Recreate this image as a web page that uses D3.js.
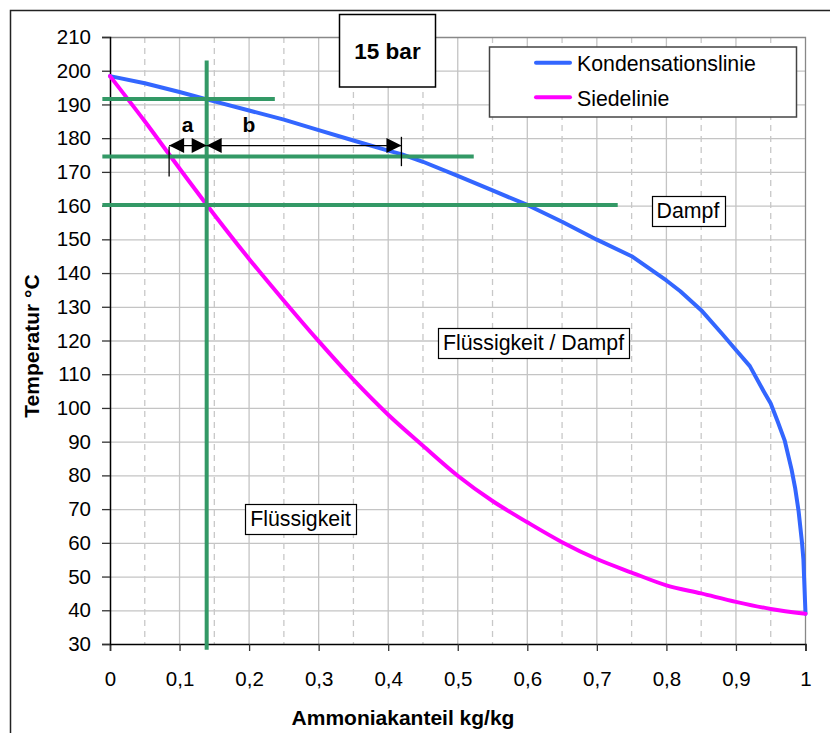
<!DOCTYPE html>
<html>
<head>
<meta charset="utf-8">
<script src="https://cdn.jsdelivr.net/npm/d3@7"></script>
<style>
  html, body { margin: 0; padding: 0; background: #fff; }
  svg { display: block; font-family: "Liberation Sans", Arial, sans-serif; }
</style>
</head>
<body>
<svg id="chart" width="830" height="733"></svg>
<script>
// Ammoniak/Wasser-Gemisch bei 15 bar: Kondensations- und Siedelinie
const kondFrac = [0, 0.05, 0.1, 0.15, 0.2, 0.25, 0.3, 0.35, 0.4, 0.42, 0.45, 0.5, 0.55, 0.6, 0.65, 0.7, 0.75,
                  0.8, 0.82, 0.85, 0.88, 0.9, 0.92, 0.94, 0.95, 0.96, 0.97, 0.98, 0.985, 0.99, 0.995, 0.997, 1.0];
const kondTemp = [198.4, 196.3, 193.7, 190.9, 188.2, 185.5, 182.4, 179.3, 176.3, 175.2, 173.0, 168.8, 164.5, 160.2, 155.2, 149.9, 145.0,
                  137.8, 134.6, 129.0, 122.0, 117.2, 112.4, 104.9, 101.3, 96.0, 90.4, 81.7, 76.4, 69.5, 60.0, 55.0, 39.0];

const siedFrac = [0, 0.05, 0.1, 0.15, 0.2, 0.25, 0.3, 0.35, 0.4, 0.45, 0.5, 0.55, 0.6, 0.65, 0.7, 0.75, 0.8, 0.85, 0.9, 0.95, 1.0];
const siedTemp = [198.4, 185.0, 171.0, 157.3, 144.2, 131.8, 119.8, 108.4, 98.0, 88.8, 79.9, 72.4, 66.1, 60.2, 55.2, 51.2, 47.4, 45.0, 42.5, 40.4, 39.0];

// Hilfslinien: Temperaturen der Waagerechten und ihr Ende auf der x-Achse
const guideTemps = [191.6, 174.6, 160.2];
const guideEnds  = [0.237, 0.523, 0.730];
const guideStart = -0.011;
// Senkrechte bei x = 0,14
const guideFrac = 0.139;
const guideVertTemps = [203, 28.3];

// Hebelarme a und b
const leverTemp = 177.8;
const leverA = [0.085, 0.139];
const leverB = [0.139, 0.419];
const markA = { frac: 0.085, temps: [168.6, 177.5] };
const markB = { frac: 0.419, temps: [171.7, 180.4] };

const tempTicks = d3.range(30, 211, 10);
const fracTicks = d3.range(0, 11).map(i => i / 10);
const fracTickLabels = ["0", "0,1", "0,2", "0,3", "0,4", "0,5", "0,6", "0,7", "0,8", "0,9", "1"];
const fracMinor = d3.range(0, 10).map(i => i / 10 + 0.05);

const seriesNames = ["Kondensationslinie", "Siedelinie"];
const seriesColors = ["#3366FF", "#FF00FF"];

const regionLabels = [
  { text: "Dampf", frac: 0.831, temp: 158.4 },
  { text: "Flüssigkeit / Dampf", frac: 0.609, temp: 119.3 },
  { text: "Flüssigkeit", frac: 0.274, temp: 67.2 }
];

const svg = d3.select("#chart");
const plot = { left: 110, right: 805.5, top: 37, bottom: 644 };

const x = d3.scaleLinear().domain([0, 1]).range([plot.left, plot.right]);
const y = d3.scaleLinear().domain([30, 210]).range([plot.bottom, plot.top]);

// Rahmen des Diagrammbereichs
svg.append("rect")
  .attr("x", 10.5).attr("y", 10.5).attr("width", 840).attr("height", 740)
  .attr("fill", "#fff").attr("stroke", "#222").attr("stroke-width", 1.5);

// Gitternetz
const grid = svg.append("g");
grid.selectAll("line.h").data(tempTicks.filter(t => t > 30 && t < 210)).join("line")
  .attr("x1", plot.left).attr("x2", plot.right)
  .attr("y1", d => y(d) + 0.5).attr("y2", d => y(d) + 0.5)
  .attr("stroke", "#c4c4c4").attr("stroke-width", 1.3);
grid.selectAll("line.vm").data(fracMinor).join("line")
  .attr("x1", d => x(d)).attr("x2", d => x(d))
  .attr("y1", plot.top).attr("y2", plot.bottom)
  .attr("stroke", "#c8c8c8").attr("stroke-width", 1.3).attr("stroke-dasharray", "6,5");
grid.selectAll("line.v").data(fracTicks.filter(f => f > 0 && f < 1)).join("line")
  .attr("x1", d => x(d)).attr("x2", d => x(d))
  .attr("y1", plot.top).attr("y2", plot.bottom)
  .attr("stroke", "#c4c4c4").attr("stroke-width", 1.3);

// Rand oben und rechts
svg.append("path")
  .attr("d", `M${plot.left},${plot.top + 0.5}H${plot.right}V${plot.bottom}`)
  .attr("fill", "none").attr("stroke", "#888").attr("stroke-width", 1.3);

// Achsen
const xAxis = d3.axisBottom(x).tickValues(fracTicks).tickFormat((d, i) => fracTickLabels[i])
  .tickSize(7).tickPadding(20);
const yAxis = d3.axisLeft(y).tickValues(tempTicks).tickFormat(d => d)
  .tickSize(8).tickPadding(11);

const gx = svg.append("g").attr("transform", `translate(0,${plot.bottom})`).call(xAxis);
const gy = svg.append("g").attr("transform", `translate(${plot.left},0)`).call(yAxis);
[gx, gy].forEach(g => {
  g.attr("font-size", 20).attr("font-family", "'Liberation Sans', Arial, sans-serif");
  g.select(".domain").attr("stroke", "#000").attr("stroke-width", 1.5);
  g.selectAll(".tick line").attr("stroke", "#333").attr("stroke-width", 1.3);
  g.selectAll(".tick text").attr("font-size", 20.5).attr("fill", "#000");
});
gx.selectAll(".tick text").attr("dy", "0.71em");

// Achsentitel
svg.append("text")
  .attr("x", 403).attr("y", 725)
  .attr("text-anchor", "middle").attr("font-size", 21).attr("font-weight", "bold")
  .text("Ammoniakanteil kg/kg");
svg.append("text")
  .attr("transform", "translate(39,346) rotate(-90)")
  .attr("text-anchor", "middle").attr("font-size", 21).attr("font-weight", "bold")
  .text("Temperatur °C");

// Kurven
const kondLine = d3.line().x(d => x(d[0])).y(d => y(d[1]));
const siedLine = d3.line().x(d => x(d[0])).y(d => y(d[1])).curve(d3.curveMonotoneX);
const kond = kondFrac.map((f, i) => [f, kondTemp[i]]);
const sied = siedFrac.map((f, i) => [f, siedTemp[i]]);
[[kond, kondLine], [sied, siedLine]].forEach(([pts, gen], i) => {
  svg.append("path").datum(pts)
    .attr("d", gen)
    .attr("fill", "none").attr("stroke", seriesColors[i]).attr("stroke-width", 4)
    .attr("stroke-linejoin", "round").attr("stroke-linecap", "round");
});

// Hilfslinien
const green = "#339966";
svg.selectAll("line.guide").data(guideTemps).join("line")
  .attr("x1", x(guideStart)).attr("x2", (d, i) => x(guideEnds[i]))
  .attr("y1", d => y(d)).attr("y2", d => y(d))
  .attr("stroke", green).attr("stroke-width", 4);
svg.append("line")
  .attr("x1", x(guideFrac)).attr("x2", x(guideFrac))
  .attr("y1", y(guideVertTemps[0])).attr("y2", y(guideVertTemps[1]))
  .attr("stroke", green).attr("stroke-width", 4);

// Hebelarme mit Pfeilspitzen
function arrowHead(tipX, tipY, dir) {
  const len = 15, half = 7.5;
  return `M${tipX},${tipY}L${tipX - dir * len},${tipY - half}L${tipX - dir * len},${tipY + half}Z`;
}
[leverA, leverB].forEach(seg => {
  const x1 = x(seg[0]), x2 = x(seg[1]), yy = y(leverTemp);
  svg.append("line").attr("x1", x1).attr("x2", x2).attr("y1", yy).attr("y2", yy)
    .attr("stroke", "#000").attr("stroke-width", 1.3);
  svg.append("path").attr("d", arrowHead(x1, yy, -1)).attr("fill", "#000");
  svg.append("path").attr("d", arrowHead(x2, yy, 1)).attr("fill", "#000");
});
[markA, markB].forEach(m => {
  svg.append("line")
    .attr("x1", x(m.frac)).attr("x2", x(m.frac))
    .attr("y1", y(m.temps[0])).attr("y2", y(m.temps[1]))
    .attr("stroke", "#000").attr("stroke-width", 1.3);
});
svg.append("text").attr("x", 187.5).attr("y", 132)
  .attr("text-anchor", "middle").attr("font-size", 21).attr("font-weight", "bold").text("a");
svg.append("text").attr("x", 249).attr("y", 132)
  .attr("text-anchor", "middle").attr("font-size", 21).attr("font-weight", "bold").text("b");

// Druckangabe
svg.append("rect").attr("x", 339.5).attr("y", 14.5).attr("width", 96).attr("height", 72.5)
  .attr("fill", "#fff").attr("stroke", "#000").attr("stroke-width", 1.5);
svg.append("text").attr("x", 387.5).attr("y", 58.5)
  .attr("text-anchor", "middle").attr("font-size", 22.5).attr("font-weight", "bold").text("15 bar");

// Legende
const legend = svg.append("g");
legend.append("rect").attr("x", 489.5).attr("y", 47).attr("width", 307).attr("height", 70)
  .attr("fill", "#fff").attr("stroke", "#444").attr("stroke-width", 1.5);
seriesNames.forEach((name, i) => {
  const ly = 62.7 + i * 34.6;
  legend.append("line").attr("x1", 536).attr("x2", 570).attr("y1", ly).attr("y2", ly)
    .attr("stroke", seriesColors[i]).attr("stroke-width", 4).attr("stroke-linecap", "round");
  legend.append("text").attr("x", 577).attr("y", ly + 8.7)
    .attr("font-size", 21.3).text(name);
});

// Bereichsbeschriftungen
regionLabels.forEach(r => {
  const g = svg.append("g");
  const t = g.append("text").attr("x", x(r.frac)).attr("y", y(r.temp))
    .attr("text-anchor", "middle").attr("dominant-baseline", "central")
    .attr("font-size", 21.3).text(r.text);
  const bb = t.node().getBBox();
  g.insert("rect", "text")
    .attr("x", Math.round(bb.x - 5) + 0.5).attr("y", Math.round(bb.y - 3) + 0.5)
    .attr("width", Math.round(bb.width + 10)).attr("height", Math.round(bb.height + 6))
    .attr("fill", "#fff").attr("stroke", "#000").attr("stroke-width", 1.2);
});
</script>
</body>
</html>
